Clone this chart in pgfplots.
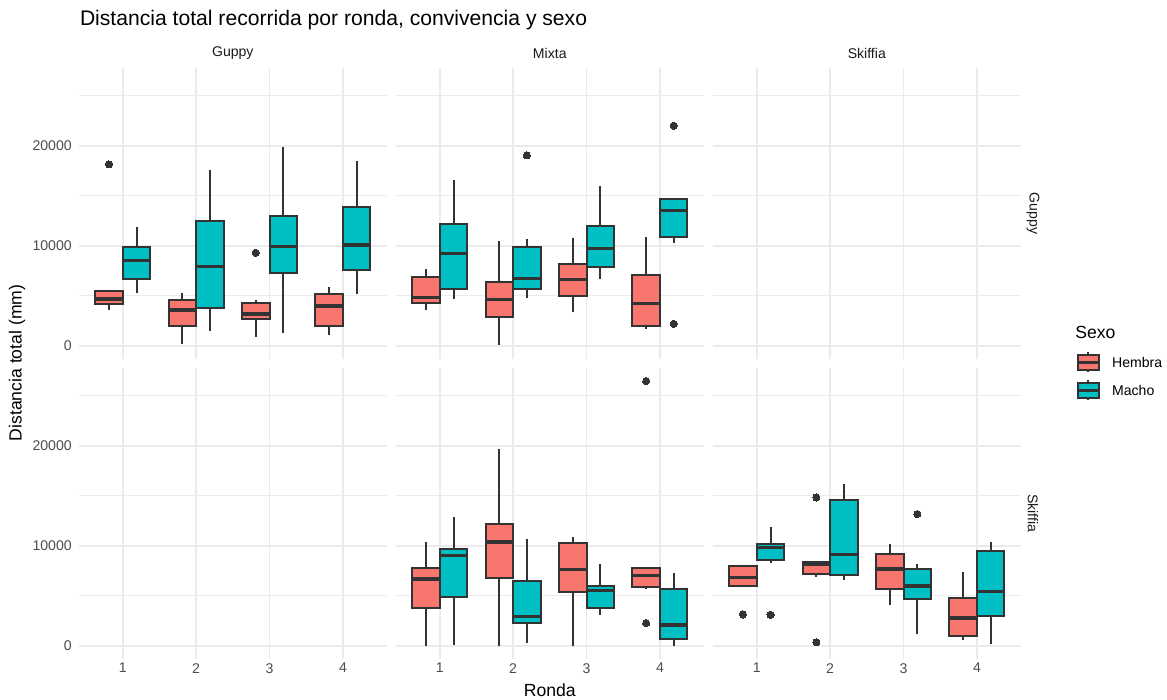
\documentclass[border=0pt]{standalone}
\usepackage{fontspec}
\setmainfont{Liberation Sans}
\usepackage{pgfplots}
\pgfplotsset{compat=1.18}
\usepgfplotslibrary{statistics}
\definecolor{hcol}{HTML}{F8766D}
\definecolor{mcol}{HTML}{00BFC4}
\definecolor{grey20}{HTML}{333333}
\definecolor{grey30}{HTML}{4D4D4D}
\definecolor{grey10}{HTML}{1A1A1A}
\definecolor{gridc}{HTML}{EBEBEB}
\pgfplotsset{
 panel/.style={width=154.15pt, height=145.6pt, scale only axis, anchor=north west,
   xmin=0.4, xmax=4.6, ymin=-1323, ymax=27790,
   xtick={1,2,3,4}, ytick={0,10000,20000}, minor ytick={5000,15000,25000},
   scaled y ticks=false, scaled x ticks=false,
   xmajorgrids, ymajorgrids, yminorgrids,
   major grid style={line width=0.85pt, gridc},
   minor grid style={line width=0.45pt, gridc},
   axis line style={draw=none}, major tick length=0pt, minor tick length=0pt,
   xticklabels={}, yticklabels={},
   yticklabel style={font=\fontsize{7.04}{8}\selectfont, text=grey30, inner sep=0pt, xshift=-3.3pt},
   xticklabel style={font=\fontsize{7.04}{8}\selectfont, text=grey30, inner sep=0pt, yshift=-1.9pt},
   boxplot/draw direction=y,
   boxplot/box extend=0.375, boxplot/whisker extend=0,
   boxplot/every median/.style={line width=1.6pt},
   boxplot/every whisker/.style={line width=1pt},
   boxplot/every box/.style={line width=1pt},
 },
 H/.style={draw=grey20, fill=hcol, line width=1pt, mark=*, mark size=1.8pt, mark options={draw=grey20, fill=grey20, line width=0pt}},
 M/.style={draw=grey20, fill=mcol, line width=1pt, mark=*, mark size=1.8pt, mark options={draw=grey20, fill=grey20, line width=0pt}},
}
\begin{document}
\begin{tikzpicture}
\useasboundingbox (0,0) rectangle (583.5pt,-350pt);
% ---- Guppy / Guppy
\begin{axis}[panel, at={(39.35pt,-33.9pt)}, yticklabels={0,10000,20000}]
\addplot[H, boxplot prepared={draw position=0.8125, lower whisker=3567, lower quartile=4200, median=4667, upper quartile=5433, upper whisker=5567}] table[row sep=\\, y index=0] {18133\\};
\addplot[M, boxplot prepared={draw position=1.1875, lower whisker=5233, lower quartile=6700, median=8533, upper quartile=9900, upper whisker=11900}] coordinates {};
\addplot[H, boxplot prepared={draw position=1.8125, lower whisker=167, lower quartile=2000, median=3567, upper quartile=4600, upper whisker=5300}] coordinates {};
\addplot[M, boxplot prepared={draw position=2.1875, lower whisker=1467, lower quartile=3800, median=7933, upper quartile=12433, upper whisker=17567}] coordinates {};
\addplot[H, boxplot prepared={draw position=2.8125, lower whisker=867, lower quartile=2700, median=3167, upper quartile=4233, upper whisker=4567}] table[row sep=\\, y index=0] {9300\\};
\addplot[M, boxplot prepared={draw position=3.1875, lower whisker=1300, lower quartile=7300, median=9933, upper quartile=12967, upper whisker=19833}] coordinates {};
\addplot[H, boxplot prepared={draw position=3.8125, lower whisker=1100, lower quartile=1933, median=3967, upper quartile=5200, upper whisker=5867}] coordinates {};
\addplot[M, boxplot prepared={draw position=4.1875, lower whisker=5200, lower quartile=7600, median=10067, upper quartile=13900, upper whisker=18467}] coordinates {};
\end{axis}
% ---- Mixta / Guppy
\begin{axis}[panel, at={(197.85pt,-33.9pt)}]
\addplot[H, boxplot prepared={draw position=0.8125, lower whisker=3567, lower quartile=4233, median=4833, upper quartile=6867, upper whisker=7633}] coordinates {};
\addplot[M, boxplot prepared={draw position=1.1875, lower whisker=4633, lower quartile=5700, median=9233, upper quartile=12200, upper whisker=16533}] coordinates {};
\addplot[H, boxplot prepared={draw position=1.8125, lower whisker=67, lower quartile=2900, median=4633, upper quartile=6400, upper whisker=10500}] coordinates {};
\addplot[M, boxplot prepared={draw position=2.1875, lower whisker=4767, lower quartile=5633, median=6733, upper quartile=9833, upper whisker=10667}] table[row sep=\\, y index=0] {19033\\};
\addplot[H, boxplot prepared={draw position=2.8125, lower whisker=3367, lower quartile=5000, median=6633, upper quartile=8200, upper whisker=10800}] coordinates {};
\addplot[M, boxplot prepared={draw position=3.1875, lower whisker=6700, lower quartile=7833, median=9733, upper quartile=11967, upper whisker=16000}] coordinates {};
\addplot[H, boxplot prepared={draw position=3.8125, lower whisker=1667, lower quartile=2000, median=4233, upper quartile=7067, upper whisker=10833}] coordinates {};
\addplot[M, boxplot prepared={draw position=4.1875, lower whisker=10233, lower quartile=10867, median=13533, upper quartile=14633, upper whisker=14767}] table[row sep=\\, y index=0] {22000\\ 2200\\};
\end{axis}
% ---- Skiffia / Guppy (empty)
\begin{axis}[panel, at={(356.35pt,-33.9pt)}]
\end{axis}
% ---- Guppy / Skiffia (empty)
\begin{axis}[panel, at={(39.35pt,-183.9pt)}, yticklabels={0,10000,20000}, xticklabels={1,2,3,4}]
\end{axis}
% ---- Mixta / Skiffia
\begin{axis}[panel, at={(197.85pt,-183.9pt)}, xticklabels={1,2,3,4}]
\addplot[H, boxplot prepared={draw position=0.8125, lower whisker=0, lower quartile=3767, median=6667, upper quartile=7800, upper whisker=10333}] coordinates {};
\addplot[M, boxplot prepared={draw position=1.1875, lower whisker=67, lower quartile=4900, median=9033, upper quartile=9667, upper whisker=12833}] coordinates {};
\addplot[H, boxplot prepared={draw position=1.8125, lower whisker=0, lower quartile=6767, median=10367, upper quartile=12200, upper whisker=19700}] coordinates {};
\addplot[M, boxplot prepared={draw position=2.1875, lower whisker=300, lower quartile=2233, median=2933, upper quartile=6433, upper whisker=10700}] coordinates {};
\addplot[H, boxplot prepared={draw position=2.8125, lower whisker=0, lower quartile=5400, median=7633, upper quartile=10233, upper whisker=10833}] coordinates {};
\addplot[M, boxplot prepared={draw position=3.1875, lower whisker=3033, lower quartile=3733, median=5533, upper quartile=6000, upper whisker=8167}] coordinates {};
\addplot[H, boxplot prepared={draw position=3.8125, lower whisker=5633, lower quartile=5900, median=7033, upper quartile=7733, upper whisker=7900}] table[row sep=\\, y index=0] {26467\\ 2267\\};
\addplot[M, boxplot prepared={draw position=4.1875, lower whisker=0, lower quartile=633, median=2067, upper quartile=5700, upper whisker=7267}] coordinates {};
\end{axis}
% ---- Skiffia / Skiffia
\begin{axis}[panel, at={(356.35pt,-183.9pt)}, xticklabels={1,2,3,4}]
\addplot[H, boxplot prepared={draw position=0.8125, lower whisker=5967, lower quartile=5967, median=6800, upper quartile=8000, upper whisker=8033}] table[row sep=\\, y index=0] {3133\\};
\addplot[M, boxplot prepared={draw position=1.1875, lower whisker=8233, lower quartile=8533, median=9833, upper quartile=10167, upper whisker=11900}] table[row sep=\\, y index=0] {3100\\};
\addplot[H, boxplot prepared={draw position=1.8125, lower whisker=6900, lower quartile=7133, median=8167, upper quartile=8367, upper whisker=8367}] table[row sep=\\, y index=0] {14833\\ 367\\};
\addplot[M, boxplot prepared={draw position=2.1875, lower whisker=6567, lower quartile=7100, median=9100, upper quartile=14600, upper whisker=16167}] coordinates {};
\addplot[H, boxplot prepared={draw position=2.8125, lower whisker=4100, lower quartile=5700, median=7667, upper quartile=9167, upper whisker=10167}] coordinates {};
\addplot[M, boxplot prepared={draw position=3.1875, lower whisker=1200, lower quartile=4633, median=5967, upper quartile=7667, upper whisker=8167}] table[row sep=\\, y index=0] {13167\\};
\addplot[H, boxplot prepared={draw position=3.8125, lower whisker=533, lower quartile=1000, median=2767, upper quartile=4800, upper whisker=7367}] coordinates {};
\addplot[M, boxplot prepared={draw position=4.1875, lower whisker=167, lower quartile=3000, median=5400, upper quartile=9433, upper whisker=10367}] coordinates {};
\end{axis}
% ---- titles and strips
\node[anchor=west, font=\fontsize{10.56}{12}\selectfont, inner sep=0pt] at (39.8pt,-10pt) {Distancia total recorrida por ronda, convivencia y sexo};
\node[font=\fontsize{7.04}{8}\selectfont, text=grey10, inner sep=0pt] at (116.4pt,-26.5pt) {Guppy};
\node[font=\fontsize{7.04}{8}\selectfont, text=grey10, inner sep=0pt] at (274.9pt,-26.5pt) {Mixta};
\node[font=\fontsize{7.04}{8}\selectfont, text=grey10, inner sep=0pt] at (433.4pt,-26.5pt) {Skiffia};
\node[rotate=-90, font=\fontsize{7.04}{8}\selectfont, text=grey10, inner sep=0pt] at (516.5pt,-106.7pt) {Guppy};
\node[rotate=-90, font=\fontsize{7.04}{8}\selectfont, text=grey10, inner sep=0pt] at (516.5pt,-256.7pt) {Skiffia};
\node[rotate=90, font=\fontsize{8.8}{10}\selectfont, inner sep=0pt] at (8.5pt,-181.5pt) {Distancia total (mm)};
\node[font=\fontsize{8.8}{10}\selectfont, inner sep=0pt] at (274.9pt,-345pt) {Ronda};
% ---- legend
\node[anchor=west, font=\fontsize{8.8}{10}\selectfont, inner sep=0pt] at (537.5pt,-166pt) {Sexo};
\draw[grey20, line width=0.8pt] (544.1pt,-176.2pt) -- (544.1pt,-186pt);
\filldraw[draw=grey20, fill=hcol, line width=1pt] (538.85pt,-177.5pt) rectangle (549.35pt,-184.8pt);
\draw[grey20, line width=1.4pt] (538.85pt,-181.15pt) -- (549.35pt,-181.15pt);
\draw[grey20, line width=0.8pt] (544.1pt,-190.2pt) -- (544.1pt,-200pt);
\filldraw[draw=grey20, fill=mcol, line width=1pt] (538.85pt,-191.5pt) rectangle (549.35pt,-198.8pt);
\draw[grey20, line width=1.4pt] (538.85pt,-195.15pt) -- (549.35pt,-195.15pt);
\node[anchor=west, font=\fontsize{7.04}{8}\selectfont, inner sep=0pt] at (555.85pt,-181.15pt) {Hembra};
\node[anchor=west, font=\fontsize{7.04}{8}\selectfont, inner sep=0pt] at (555.85pt,-195.15pt) {Macho};
\end{tikzpicture}
\end{document}
